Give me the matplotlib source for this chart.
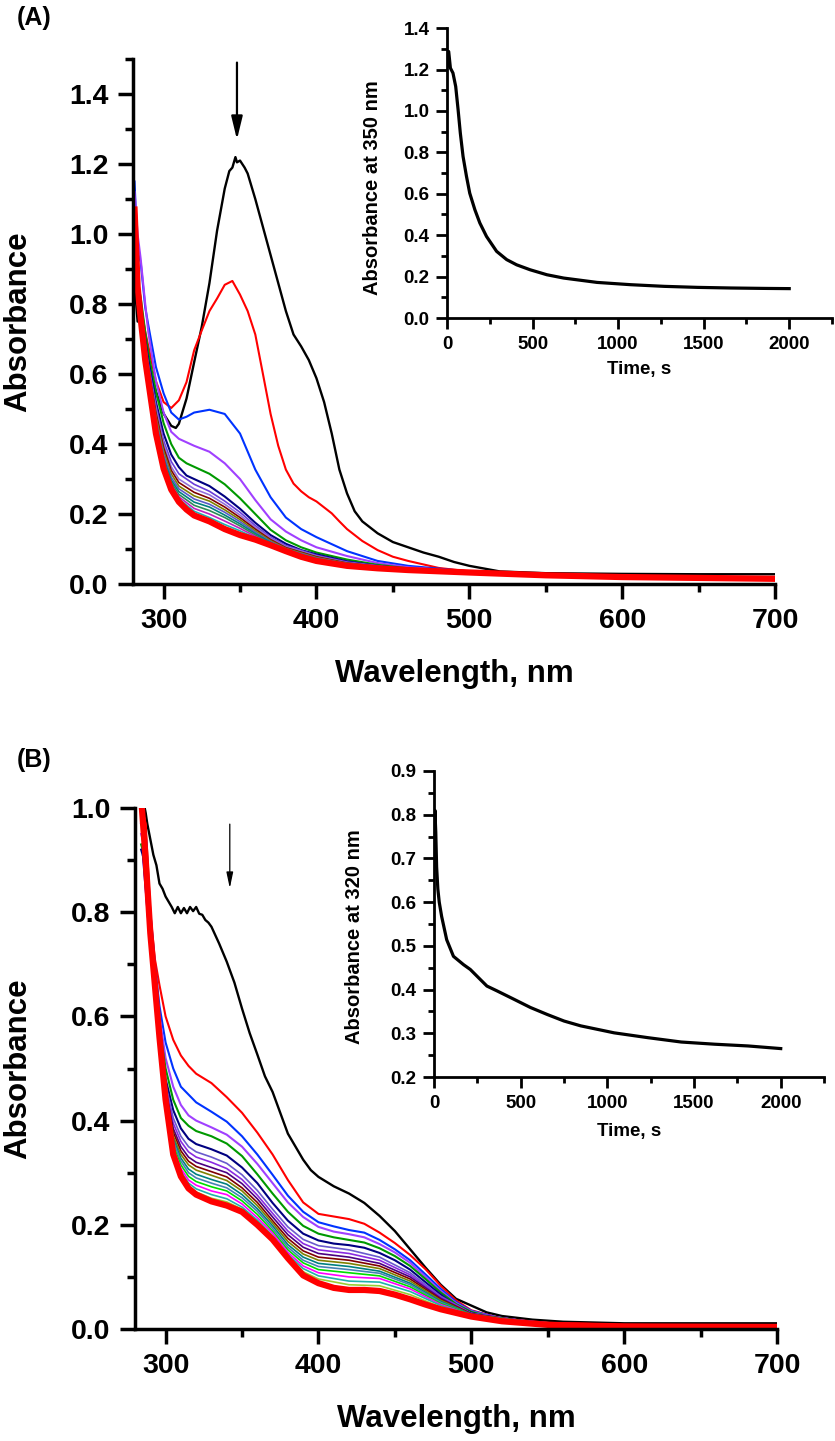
import numpy as np
import matplotlib
matplotlib.use('Agg')
import matplotlib.pyplot as plt
from matplotlib.ticker import MultipleLocator, FormatStrFormatter

plt.rcParams['font.family'] = ['Liberation Sans', 'DejaVu Sans']
plt.rcParams['font.weight'] = 'bold'
plt.rcParams['axes.labelweight'] = 'bold'

# ---------------- panel A : spectra ----------------
wl_black_a = [281, 283, 285, 288, 290, 295, 300, 305, 308, 310, 315, 320, 325, 330, 335,
              340, 343, 345, 347, 348, 350, 353, 355, 360, 365, 370, 375, 380, 385, 390,
              395, 400, 405, 410, 415, 420, 425, 430, 440, 450, 460, 470, 480, 490, 500,
              520, 550, 600, 650, 700]
black_a = [0.86, 0.75, 0.77, 0.66, 0.63, 0.55, 0.487, 0.452, 0.446, 0.458, 0.53, 0.634, 0.736, 0.86, 1.01,
           1.13, 1.18, 1.19, 1.22, 1.205, 1.21, 1.19, 1.173, 1.10, 1.02, 0.94, 0.86, 0.78, 0.713, 0.679,
           0.64, 0.588, 0.52, 0.43, 0.327, 0.259, 0.208, 0.179, 0.145, 0.12, 0.105, 0.09, 0.078, 0.063, 0.052,
           0.036, 0.031, 0.029, 0.028, 0.028]

wl_red_a = [281, 283, 285, 288, 290, 295, 300, 305, 310, 315, 320, 325, 330, 335, 340, 345, 350,
            355, 360, 365, 370, 375, 380, 385, 390, 395, 400, 405, 410, 415, 420, 430, 440, 450,
            460, 480, 500, 550, 600, 650, 700]
red_a = [1.0, 0.88, 0.8, 0.72, 0.68, 0.58, 0.52, 0.503, 0.525, 0.577, 0.668, 0.725, 0.78, 0.816, 0.855, 0.866, 0.827,
         0.78, 0.713, 0.6, 0.486, 0.395, 0.327, 0.287, 0.265, 0.248, 0.236, 0.219, 0.202, 0.179, 0.157, 0.123, 0.097, 0.078,
         0.066, 0.046, 0.036, 0.027, 0.022, 0.019, 0.018]

wl_a = [281, 283, 285, 288, 290, 295, 300, 305, 310, 315, 320, 330, 340, 350, 360, 370, 380, 390,
        400, 420, 440, 460, 500, 550, 600, 700]
blue_a = [1.15, 0.95, 0.92, 0.79, 0.74, 0.62, 0.545, 0.49, 0.47, 0.478, 0.49, 0.498, 0.486, 0.43, 0.327, 0.248, 0.19, 0.157,
          0.134, 0.094, 0.066, 0.052, 0.036, 0.028, 0.023, 0.019]
purple_a = [1.12, 1.0, 0.93, 0.80, 0.72, 0.58, 0.49, 0.435, 0.415, 0.405, 0.395, 0.378, 0.345, 0.3, 0.24, 0.185, 0.15, 0.125,
            0.105, 0.08, 0.06, 0.048, 0.035, 0.027, 0.022, 0.018]
green_a = [0.87, 0.86, 0.82, 0.72, 0.66, 0.55, 0.46, 0.4, 0.361, 0.345, 0.335, 0.315, 0.285, 0.245, 0.2, 0.155, 0.125, 0.105,
           0.09, 0.07, 0.055, 0.045, 0.033, 0.026, 0.021, 0.018]
navy_a = [0.86, 0.85, 0.78, 0.70, 0.64, 0.52, 0.43, 0.37, 0.334, 0.31, 0.3, 0.28, 0.25, 0.215, 0.175, 0.14, 0.115, 0.097,
          0.085, 0.065, 0.052, 0.043, 0.032, 0.025, 0.02, 0.017]
final_a = [1.07, 0.85, 0.76, 0.64, 0.58, 0.43, 0.33, 0.27, 0.235, 0.213, 0.196, 0.179, 0.157, 0.14, 0.127, 0.111, 0.094, 0.078,
           0.066, 0.052, 0.045, 0.04, 0.033, 0.025, 0.02, 0.015]

wl_bundle_a = [283, 285, 290, 295, 300, 305, 310, 320, 330, 340, 350, 360, 370, 380, 400, 420, 450, 500, 600, 700]
bundle_a = [
    [.84, .77, .63, .51, .41, .35, .315, .285, .265, .237, .205, .167, .134, .11, .082, .063, .047, .032, .02, .017],
    [.83, .76, .62, .50, .40, .335, .30, .272, .255, .228, .197, .162, .131, .107, .080, .061, .046, .032, .02, .017],
    [.83, .75, .62, .49, .39, .325, .29, .262, .245, .22, .19, .157, .127, .104, .078, .06, .046, .032, .02, .016],
    [.82, .75, .61, .48, .38, .315, .28, .252, .237, .212, .184, .152, .124, .102, .076, .059, .045, .032, .02, .016],
    [.82, .74, .61, .47, .37, .305, .272, .243, .228, .205, .178, .148, .121, .1, .074, .058, .045, .032, .02, .016],
    [.81, .74, .60, .46, .36, .297, .264, .234, .22, .197, .172, .144, .119, .098, .072, .057, .044, .032, .02, .016],
    [.81, .73, .60, .45, .35, .29, .256, .225, .21, .19, .166, .14, .116, .097, .07, .056, .044, .032, .02, .016],
    [.80, .73, .59, .44, .345, .283, .249, .216, .2, .18, .159, .136, .114, .096, .069, .055, .043, .032, .02, .016],
    [.80, .72, .59, .44, .34, .278, .243, .208, .19, .17, .152, .132, .113, .095, .068, .054, .043, .032, .02, .016],
]
bundle_a_colors = ['#6a3dd9', '#9370db', '#800000', '#808000', '#5a5ac8', '#008080', '#2e8b57', '#c020c0', '#20b0b0']

# inset A : absorbance at 350 nm vs time
t_a = [0, 10, 20, 35, 51, 65, 78, 94, 114, 133, 163, 192, 231, 290, 349, 407, 486, 584, 682, 877,
       1073, 1269, 1465, 1661, 1857, 2000]
kin_a = [1.215, 1.287, 1.207, 1.183, 1.118, 1.006, 0.893, 0.78, 0.684, 0.603, 0.523, 0.459, 0.394, 0.322, 0.282,
         0.257, 0.233, 0.209, 0.193, 0.172, 0.161, 0.153, 0.148, 0.145, 0.143, 0.142]

# ---------------- panel B : spectra ----------------
wl_black_b = [285, 287, 288, 290, 292, 294, 296, 298, 300, 302, 304, 306, 308, 310, 312, 314, 316, 318, 320,
              322, 324, 326, 328, 330, 335, 340, 345, 350, 355, 360, 365, 370, 375, 380, 385, 390, 395,
              400, 410, 420, 430, 440, 450, 460, 470, 480, 490, 500, 510, 520, 540, 560, 600, 650, 700]
black_b = [1.02, 0.99, 0.97, 0.94, 0.91, 0.89, 0.855, 0.845, 0.83, 0.82, 0.81, 0.798, 0.81, 0.798, 0.808, 0.798, 0.81, 0.802, 0.81,
           0.797, 0.795, 0.785, 0.78, 0.772, 0.74, 0.705, 0.665, 0.615, 0.568, 0.527, 0.485, 0.455, 0.415, 0.375, 0.35, 0.325, 0.305,
           0.292, 0.274, 0.26, 0.242, 0.217, 0.188, 0.153, 0.118, 0.085, 0.058, 0.045, 0.032, 0.025, 0.018, 0.014, 0.011, 0.011, 0.011]

wl_b = [284, 287, 290, 293, 296, 300, 305, 310, 315, 320, 330, 340, 350, 360, 370, 380, 390, 400,
        410, 420, 430, 440, 450, 460, 470, 480, 490, 500, 520, 550, 600, 700]
red_b = [1.0, 0.97, 0.8, 0.71, 0.66, 0.6, 0.555, 0.525, 0.505, 0.49, 0.472, 0.445, 0.415, 0.377, 0.335, 0.286, 0.243, 0.221,
         0.216, 0.211, 0.202, 0.185, 0.165, 0.142, 0.115, 0.083, 0.055, 0.036, 0.02, 0.012, 0.008, 0.006]
blue_b = [0.97, 0.95, 0.8, 0.7, 0.62, 0.55, 0.5, 0.465, 0.45, 0.435, 0.417, 0.398, 0.37, 0.335, 0.296, 0.256, 0.225, 0.205,
          0.197, 0.19, 0.185, 0.171, 0.153, 0.132, 0.105, 0.077, 0.052, 0.035, 0.02, 0.011, 0.007, 0.005]
purple_b = [0.95, 0.92, 0.78, 0.68, 0.6, 0.52, 0.465, 0.43, 0.41, 0.4, 0.387, 0.373, 0.35, 0.317, 0.28, 0.243, 0.215, 0.196,
            0.187, 0.182, 0.176, 0.163, 0.147, 0.127, 0.1, 0.073, 0.05, 0.034, 0.019, 0.01, 0.006, 0.005]
green_b = [0.93, 0.9, 0.76, 0.66, 0.58, 0.5, 0.44, 0.405, 0.39, 0.38, 0.37, 0.356, 0.332, 0.297, 0.26, 0.225, 0.198, 0.183,
           0.176, 0.171, 0.166, 0.155, 0.14, 0.121, 0.096, 0.07, 0.048, 0.033, 0.018, 0.01, 0.006, 0.005]
navy_b = [0.92, 0.89, 0.74, 0.64, 0.56, 0.48, 0.42, 0.385, 0.365, 0.355, 0.345, 0.333, 0.31, 0.28, 0.242, 0.208, 0.183, 0.17,
          0.164, 0.161, 0.156, 0.146, 0.132, 0.114, 0.09, 0.066, 0.045, 0.031, 0.017, 0.009, 0.006, 0.005]
final_b = [1.02, 0.9, 0.76, 0.66, 0.56, 0.44, 0.335, 0.293, 0.27, 0.258, 0.245, 0.237, 0.225, 0.2, 0.172, 0.136, 0.103, 0.088,
           0.079, 0.075, 0.075, 0.073, 0.066, 0.057, 0.047, 0.038, 0.031, 0.024, 0.015, 0.008, 0.005, 0.004]

wl_bundle_b = [285, 290, 295, 300, 305, 310, 315, 320, 330, 340, 350, 360, 370, 380, 390, 400, 420, 440, 460, 480,
               500, 550, 700]
bundle_b = [
    [.91, .73, .58, .47, .405, .37, .35, .34, .33, .318, .296, .266, .23, .196, .172, .16, .152, .138, .108, .063, .03, .009, .005],
    [.91, .73, .58, .465, .395, .36, .34, .33, .32, .308, .287, .257, .222, .188, .164, .152, .145, .132, .104, .061, .03, .009, .005],
    [.92, .73, .58, .46, .385, .35, .33, .32, .31, .3, .279, .25, .215, .181, .157, .145, .138, .126, .1, .059, .029, .009, .005],
    [.92, .74, .58, .46, .378, .342, .322, .312, .302, .292, .271, .243, .208, .174, .15, .138, .132, .121, .096, .057, .029, .009, .005],
    [.93, .74, .58, .455, .37, .335, .315, .305, .295, .285, .265, .237, .203, .168, .144, .132, .126, .116, .092, .055, .028, .009, .005],
    [.93, .74, .585, .45, .365, .328, .307, .297, .287, .278, .258, .231, .198, .162, .138, .126, .12, .111, .088, .053, .028, .009, .005],
    [.94, .75, .585, .45, .36, .322, .3, .29, .28, .271, .252, .226, .193, .157, .132, .12, .114, .107, .085, .051, .027, .009, .005],
    [.94, .75, .59, .445, .352, .315, .293, .283, .273, .265, .246, .22, .188, .152, .127, .114, .108, .102, .081, .049, .027, .009, .005],
    [.95, .75, .59, .445, .347, .308, .286, .276, .265, .258, .24, .214, .184, .147, .121, .108, .1, .097, .077, .047, .026, .009, .005],
    [.96, .76, .59, .44, .342, .302, .28, .269, .258, .25, .234, .209, .179, .143, .116, .102, .092, .09, .072, .045, .025, .008, .004],
    [.96, .76, .59, .44, .338, .297, .274, .263, .251, .244, .23, .205, .176, .14, .11, .096, .085, .083, .066, .042, .025, .008, .004],
]
bundle_b_colors = ['#6a5acd', '#8a2be2', '#4b0082', '#800000', '#808000', '#008080', '#4682b4', '#00dd00', '#ff00ff',
                   '#20b2aa', '#9acd32']

# inset B : absorbance at 320 nm vs time
t_b = [0, 5, 10, 15, 22, 30, 44, 73, 112, 170, 209, 267, 305, 363, 460, 556, 653, 750, 846, 1039,
       1233, 1426, 1619, 1812, 2000]
kin_b = [0.74, 0.81, 0.76, 0.68, 0.63, 0.6, 0.567, 0.514, 0.476, 0.457, 0.446, 0.423, 0.408, 0.397, 0.378,
         0.359, 0.343, 0.328, 0.317, 0.301, 0.29, 0.28, 0.275, 0.271, 0.265]


def style(ax, lw, major, minor, size, pad):
    ax.spines['top'].set_visible(False)
    ax.spines['right'].set_visible(False)
    ax.spines['left'].set_linewidth(lw)
    ax.spines['bottom'].set_linewidth(lw)
    ax.tick_params(which='major', direction='out', length=major, width=lw, labelsize=size, pad=pad)
    ax.tick_params(which='minor', direction='out', length=minor, width=lw)
    for lab in ax.get_xticklabels() + ax.get_yticklabels():
        lab.set_fontweight('bold')


fig = plt.figure(figsize=(8.35, 14.41), dpi=100)

# main A
ax1 = fig.add_axes([0.1593, 0.5947, 0.7689, 0.3643])
ax1.plot(wl_black_a, black_a, color='black', lw=1.7)
ax1.plot(wl_red_a, red_a, color='#ff0000', lw=1.5)
ax1.plot(wl_a, blue_a, color='#0033ff', lw=1.5)
ax1.plot(wl_a, purple_a, color='#a040ff', lw=1.5)
ax1.plot(wl_a, green_a, color='#009900', lw=1.5)
ax1.plot(wl_a, navy_a, color='#000080', lw=1.5)
for vals, col in zip(bundle_a, bundle_a_colors):
    ax1.plot(wl_bundle_a, vals, color=col, lw=1.2)
ax1.plot(wl_a, final_a, color='#ff0000', lw=4.5)
ax1.set_xlim(280, 700)
ax1.set_ylim(0, 1.5)
ax1.xaxis.set_major_locator(MultipleLocator(100))
ax1.xaxis.set_minor_locator(MultipleLocator(50))
ax1.yaxis.set_major_locator(MultipleLocator(0.2))
ax1.yaxis.set_minor_locator(MultipleLocator(0.1))
ax1.yaxis.set_major_formatter(FormatStrFormatter('%.1f'))
style(ax1, 2.5, 10.5, 6, 20.5, 7)
ax1.set_xlabel('Wavelength, nm', fontsize=22.5)
ax1.set_ylabel('Absorbance', fontsize=22.5)
ax1.xaxis.set_label_coords(0.5, -0.143)
ax1.yaxis.set_label_coords(-0.156, 0.5)
ax1.annotate('', xy=(348, 1.27), xytext=(348, 1.49),
             arrowprops=dict(arrowstyle='-|>,head_length=0.7,head_width=0.17', lw=1.6,
                             color='black', mutation_scale=20, shrinkA=0, shrinkB=0))

# inset A
ax2 = fig.add_axes([0.5353, 0.7793, 0.4611, 0.2012], facecolor='none')
ax2.plot(t_a, kin_a, color='black', lw=2.3)
ax2.set_xlim(0, 2250)
ax2.set_ylim(0, 1.4)
ax2.xaxis.set_major_locator(MultipleLocator(500))
ax2.xaxis.set_minor_locator(MultipleLocator(250))
ax2.yaxis.set_major_locator(MultipleLocator(0.2))
ax2.yaxis.set_minor_locator(MultipleLocator(0.1))
ax2.yaxis.set_major_formatter(FormatStrFormatter('%.1f'))
style(ax2, 2.0, 8, 4.5, 13.5, 4.5)
ax2.tick_params(axis='x', which='major', pad=5)
ax2.set_xlabel('Time, s', fontsize=13.5)
ax2.set_ylabel('Absorbance at 350 nm', fontsize=14.5)
ax2.xaxis.set_label_coords(0.5, -0.148)
ax2.yaxis.set_label_coords(-0.169, 0.45)

# main B
ax3 = fig.add_axes([0.1617, 0.0777, 0.7689, 0.3616])
ax3.plot(wl_black_b, black_b, color='black', lw=1.7)
ax3.plot(wl_b, red_b, color='#ff0000', lw=1.5)
ax3.plot(wl_b, blue_b, color='#0033ff', lw=1.5)
ax3.plot(wl_b, purple_b, color='#a040ff', lw=1.5)
ax3.plot(wl_b, green_b, color='#009900', lw=1.5)
ax3.plot(wl_b, navy_b, color='#000080', lw=1.5)
for vals, col in zip(bundle_b, bundle_b_colors):
    ax3.plot(wl_bundle_b, vals, color=col, lw=1.2)
ax3.plot(wl_b, final_b, color='#ff0000', lw=4.5)
ax3.set_xlim(280, 700)
ax3.set_ylim(0, 1.0)
ax3.xaxis.set_major_locator(MultipleLocator(100))
ax3.xaxis.set_minor_locator(MultipleLocator(50))
ax3.yaxis.set_major_locator(MultipleLocator(0.2))
ax3.yaxis.set_minor_locator(MultipleLocator(0.1))
ax3.yaxis.set_major_formatter(FormatStrFormatter('%.1f'))
style(ax3, 2.5, 10.5, 6, 20.5, 7)
ax3.set_xlabel('Wavelength, nm', fontsize=22.5)
ax3.set_ylabel('Absorbance', fontsize=22.5)
ax3.xaxis.set_label_coords(0.5, -0.144)
ax3.yaxis.set_label_coords(-0.159, 0.5)
ax3.annotate('', xy=(342, 0.846), xytext=(342, 0.969),
             arrowprops=dict(arrowstyle='-|>,head_length=0.95,head_width=0.2', lw=0.9,
                             color='black', mutation_scale=10, shrinkA=0, shrinkB=0))

# inset B
ax4 = fig.add_axes([0.5198, 0.2526, 0.4671, 0.2124], facecolor='none')
ax4.plot(t_b, kin_b, color='black', lw=2.3)
ax4.set_xlim(0, 2250)
ax4.set_ylim(0.2, 0.9)
ax4.xaxis.set_major_locator(MultipleLocator(500))
ax4.xaxis.set_minor_locator(MultipleLocator(250))
ax4.yaxis.set_major_locator(MultipleLocator(0.1))
ax4.yaxis.set_minor_locator(MultipleLocator(0.05))
ax4.yaxis.set_major_formatter(FormatStrFormatter('%.1f'))
style(ax4, 2.0, 8, 4.5, 13.5, 4.5)
ax4.tick_params(axis='x', which='major', pad=5)
ax4.set_xlabel('Time, s', fontsize=13.5)
ax4.set_ylabel('Absorbance at 320 nm', fontsize=14.5)
ax4.xaxis.set_label_coords(0.5, -0.150)
ax4.yaxis.set_label_coords(-0.179, 0.46)

fig.text(17 / 835, 1 - 6 / 1441, '(A)', fontsize=18, fontweight='bold', ha='left', va='top')
fig.text(17 / 835, 1 - 748 / 1441, '(B)', fontsize=18, fontweight='bold', ha='left', va='top')

fig.savefig('out.png', dpi=100)
